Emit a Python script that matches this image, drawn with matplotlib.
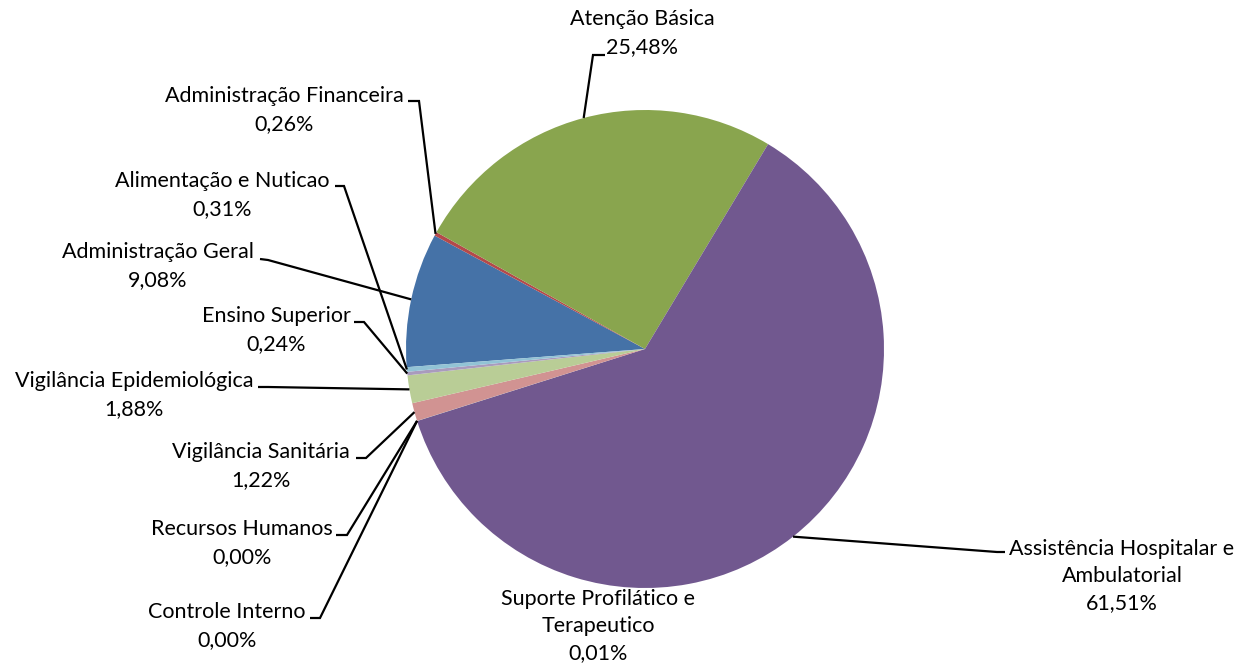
import numpy as np
import matplotlib
matplotlib.use("Agg")
import matplotlib.pyplot as plt

# data, in clockwise order starting from Administração Geral
categorias = ["Administração Geral", "Administração Financeira", "Atenção Básica",
              "Assistência Hospitalar e\nAmbulatorial", "Suporte Profilático e\nTerapeutico",
              "Controle Interno", "Recursos Humanos", "Vigilância Sanitária",
              "Vigilância Epidemiológica", "Ensino Superior", "Alimentação e Nuticao"]
percentuais = [9.08, 0.26, 25.48, 61.51, 0.01, 0.00, 0.00, 1.22, 1.88, 0.24, 0.31]
cores = ["#4572A7", "#B4494A", "#89A54E", "#71588F", "#4198AF", "#DB843D",
         "#93A9CF", "#D19392", "#B9CD96", "#A99BBD", "#92C3D5"]

# layout in pixels: text centre, end of leader near text, elbow
centro_px = (645, 349)
raio_px = 239
texto_pos = [(158, 266), (284, 110), (642, 33), (1122, 576), (598, 626),
             (227, 626), (242, 543), (261, 466), (134, 395), (276, 330), (222, 195)]
guia_pos = [[(260, 259), (268, 260)], [(408, 101), (419, 101)], [(605, 55), (593, 55)],
            [(1005, 552), (997, 552)], None,
            [(310, 618), (320, 618)], [(336, 535), (347, 535)], [(356, 458), (366, 458)],
            [(258, 387), (268, 387)], [(354, 322), (364, 322)], [(335, 186), (344, 186)]]

W, H = 1239, 665


def px(x, y):
    return ((x - centro_px[0]) / raio_px, (centro_px[1] - y) / raio_px)


plt.rcParams['font.family'] = ['Lato', 'DejaVu Sans']
fig = plt.figure(figsize=(W / 100, H / 100), dpi=100)
ax = fig.add_axes([0, 0, 1, 1])

# purple slice starts 31 degrees right of the top; the first three slices come before it
inicio = 90 - 31 + 360 * sum(percentuais[:3]) / sum(percentuais)
wedges, _ = ax.pie(percentuais, colors=cores, startangle=inicio, counterclock=False,
                   radius=1, center=(0, 0), wedgeprops=dict(linewidth=0))

for i, w in enumerate(wedges):
    texto = categorias[i] + "\n" + f"{percentuais[i]:.2f}".replace(".", ",") + "%"
    tx, ty = px(*texto_pos[i])
    ax.text(tx, ty, texto, ha="center", va="center", fontsize=15.5,
            linespacing=1.45, color="black")
    if guia_pos[i] is None:
        continue
    ang = np.deg2rad((w.theta1 + w.theta2) / 2)
    borda = (np.cos(ang), np.sin(ang))
    p0 = px(*guia_pos[i][0])
    p1 = px(*guia_pos[i][1])
    ax.plot([p0[0], p1[0], borda[0]], [p0[1], p1[1], borda[1]], color="black",
            lw=1.6, solid_capstyle="butt", solid_joinstyle="miter")

ax.set_xlim(-centro_px[0] / raio_px, (W - centro_px[0]) / raio_px)
ax.set_ylim(-(H - centro_px[1]) / raio_px, centro_px[1] / raio_px)
ax.set_aspect("equal")
ax.axis("off")

fig.savefig("out.png", dpi=100)
